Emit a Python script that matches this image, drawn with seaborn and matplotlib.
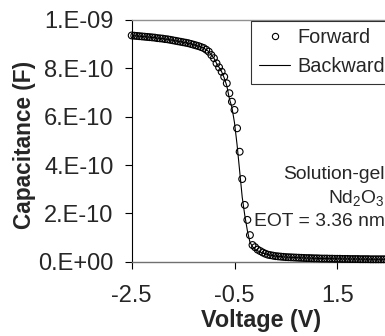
import matplotlib
matplotlib.use("Agg")
import matplotlib.pyplot as plt
import numpy as np
import seaborn as sns
from matplotlib.lines import Line2D

# gate voltage sweep (V), 0.05 V step
voltage = [
    -2.50, -2.45, -2.40, -2.35, -2.30, -2.25, -2.20, -2.15, -2.10, -2.05,
    -2.00, -1.95, -1.90, -1.85, -1.80, -1.75, -1.70, -1.65, -1.60, -1.55,
    -1.50, -1.45, -1.40, -1.35, -1.30, -1.25, -1.20, -1.15, -1.10, -1.05,
    -1.00, -0.95, -0.90, -0.85, -0.80, -0.75, -0.70, -0.65, -0.60, -0.55,
    -0.50, -0.45, -0.40, -0.35, -0.30, -0.25, -0.20, -0.15, -0.10, -0.05,
    0.00, 0.05, 0.10, 0.15, 0.20, 0.25, 0.30, 0.35, 0.40, 0.45,
    0.50, 0.55, 0.60, 0.65, 0.70, 0.75, 0.80, 0.85, 0.90, 0.95,
    1.00, 1.05, 1.10, 1.15, 1.20, 1.25, 1.30, 1.35, 1.40, 1.45,
    1.50, 1.55, 1.60, 1.65, 1.70, 1.75, 1.80, 1.85, 1.90, 1.95,
    2.00, 2.05, 2.10, 2.15, 2.20, 2.25, 2.30, 2.35, 2.40, 2.45,
    2.50,
]

# capacitance in units of 1e-10 F
forward = [
    9.36, 9.35, 9.34, 9.33, 9.32, 9.31, 9.30, 9.29, 9.28, 9.27,
    9.25, 9.24, 9.23, 9.21, 9.20, 9.18, 9.16, 9.14, 9.12, 9.10,
    9.08, 9.06, 9.04, 9.01, 8.98, 8.95, 8.92, 8.88, 8.84, 8.77,
    8.69, 8.55, 8.42, 8.21, 8.04, 7.86, 7.65, 7.38, 6.97, 6.62,
    6.28, 5.52, 4.55, 3.42, 2.35, 1.73, 1.10, 0.69, 0.60, 0.50,
    0.44, 0.38, 0.33, 0.29, 0.27, 0.25, 0.23, 0.22, 0.21, 0.20,
    0.19, 0.185, 0.18, 0.175, 0.17, 0.165, 0.16, 0.155, 0.15, 0.15,
    0.145, 0.14, 0.14, 0.135, 0.13, 0.13, 0.13, 0.125, 0.125, 0.12,
    0.12, 0.12, 0.115, 0.115, 0.115, 0.11, 0.11, 0.11, 0.11, 0.105,
    0.105, 0.105, 0.105, 0.10, 0.10, 0.10, 0.10, 0.10, 0.10, 0.10,
    0.10,
]

backward = [
    9.36, 9.35, 9.34, 9.33, 9.32, 9.31, 9.30, 9.29, 9.28, 9.27,
    9.25, 9.24, 9.23, 9.21, 9.20, 9.18, 9.16, 9.14, 9.12, 9.10,
    9.08, 9.06, 9.04, 9.01, 8.98, 8.95, 8.92, 8.88, 8.84, 8.77,
    8.69, 8.55, 8.42, 8.21, 8.04, 7.86, 7.60, 7.28, 6.75, 6.38,
    5.75, 4.84, 3.76, 2.67, 1.92, 1.29, 0.81, 0.62, 0.53, 0.45,
    0.40, 0.35, 0.33, 0.29, 0.27, 0.25, 0.23, 0.22, 0.21, 0.20,
    0.19, 0.185, 0.18, 0.175, 0.17, 0.165, 0.16, 0.155, 0.15, 0.15,
    0.145, 0.14, 0.14, 0.135, 0.13, 0.13, 0.13, 0.125, 0.125, 0.12,
    0.12, 0.12, 0.115, 0.115, 0.115, 0.11, 0.11, 0.11, 0.11, 0.105,
    0.105, 0.105, 0.105, 0.10, 0.10, 0.10, 0.10, 0.10, 0.10, 0.10,
    0.10,
]

x_ticks = [-2.5, -0.5, 1.5]
y_ticks = [0, 2e-10, 4e-10, 6e-10, 8e-10, 1e-9]
y_ticklabels = ['0.E+00', '2.E-10', '4.E-10', '6.E-10', '8.E-10', '1.E-09']
note_lines = ['Solution-gel', 'Nd$_2$O$_3$', 'EOT = 3.36 nm']

sns.set_style("ticks")
plt.rcParams['font.family'] = ['Liberation Sans', 'DejaVu Sans']
plt.rcParams['mathtext.default'] = 'regular'

W, H = 385, 336
fig = plt.figure(figsize=(W / 100, H / 100), dpi=100)
ax = fig.add_axes([131.7 / W, 1 - 261.7 / H, 257 / W, 241.7 / H])

fwd_c = np.array(forward) * 1e-10
bwd_c = np.array(backward) * 1e-10

sns.lineplot(x=voltage, y=bwd_c, color='black', linewidth=0.8, ax=ax,
             sort=False, legend=False)
sns.scatterplot(x=voltage, y=fwd_c, marker='o', s=24, facecolor='none',
                edgecolor='black', linewidth=0.8, ax=ax, legend=False,
                clip_on=False, zorder=3)

ax.set_xlim(-2.5, 2.5)
ax.set_ylim(0, 1e-9)
ax.set_xticks(x_ticks)
ax.set_xticklabels([str(t) for t in x_ticks])
ax.set_yticks(y_ticks)
ax.set_yticklabels(y_ticklabels)
ax.tick_params(axis='y', direction='out', length=5, width=0.8, pad=8,
               labelsize=17, color='black')
ax.tick_params(axis='x', direction='out', length=5, width=0.8, pad=12,
               labelsize=17, color='black')
ax.set_xlabel('')
ax.set_ylabel('')

ax.spines['left'].set_color('black')
ax.spines['left'].set_linewidth(0.8)
ax.spines['bottom'].set_color('#707070')
ax.spines['bottom'].set_linewidth(1.0)
ax.spines['top'].set_color('#909090')
ax.spines['top'].set_linewidth(1.0)
ax.spines['right'].set_visible(False)

fig.text(261 / W, 1 - 321 / H, 'Voltage (V)', ha='center', va='center',
         fontsize=16.8, fontweight='bold')
fig.text(25 / W, 1 - 145 / H, 'Capacitance (F)', ha='center', va='center',
         rotation=90, fontsize=16.3, fontweight='bold')

for i, line in enumerate(note_lines):
    fig.text(385 / W, 1 - (174 + 24 * i) / H, line, ha='right', va='center',
             fontsize=13.9)

handles = [
    Line2D([], [], marker='o', linestyle='none', markerfacecolor='none',
           markeredgecolor='black', markersize=4.5, markeredgewidth=0.8),
    Line2D([], [], color='black', linewidth=0.8),
]
leg = fig.legend(handles, ['Forward', 'Backward'], loc='upper left',
                 bbox_to_anchor=(250.7 / W, 1 - 20.5 / H), borderaxespad=0,
                 frameon=True, fancybox=False, fontsize=14.3,
                 handlelength=1.6, handletextpad=0.35, borderpad=0.4,
                 labelspacing=0.5)
leg.get_frame().set_edgecolor('black')
leg.get_frame().set_linewidth(0.8)

fig.savefig('out.png', dpi=100)
